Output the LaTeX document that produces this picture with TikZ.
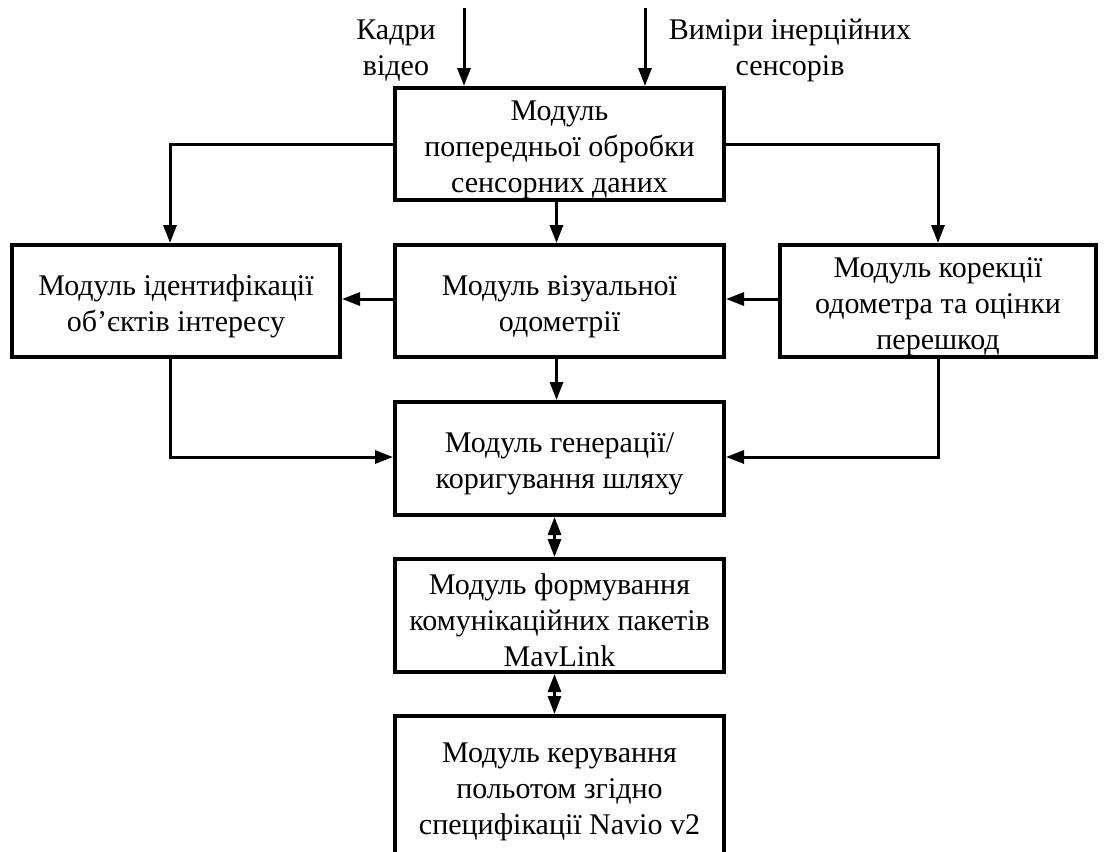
\documentclass[tikz,border=0pt]{standalone}
\usepackage{fontspec}
\setmainfont{Liberation Serif}
\usetikzlibrary{arrows.meta}
% extra head room on the first text line
\newcommand\firstlinestrut{\rule{0pt}{31pt}}
\begin{document}
\begin{tikzpicture}[x=1pt,y=-1pt,
  txt/.style={align=center, inner sep=0pt, font=\fontsize{30}{36}\selectfont},
  box/.style={txt, draw, line width=4pt, minimum height=112pt},
  arr/.style={line width=3pt, -{Triangle[length=18pt,width=13pt]}},
  dbl/.style={line width=3pt, {Triangle[length=18pt,width=13pt]}-{Triangle[length=18pt,width=13pt]}}]
\useasboundingbox (0,0) rectangle (1104,852);
\clip (0,0) rectangle (1104,852);

% input labels
\node[txt] (lv) at (396,45) {\firstlinestrut Кадри\\відео};
\node[txt] (ls) at (790,45) {\firstlinestrut Виміри інерційних\\сенсорів};

% modules
\node[box, minimum width=329pt] (pre) at (559.5,144) {\firstlinestrut Модуль\\попередньої обробки\\сенсорних даних};
\node[box, minimum width=328pt] (ident) at (176,301) {\firstlinestrut Модуль ідентифікації\\об’єктів інтересу};
\node[box, minimum width=329pt] (vis) at (559.5,301) {\firstlinestrut Модуль візуальної\\одометрії};
\node[box, minimum width=316pt] (corr) at (938,301) {\firstlinestrut Модуль корекції\\одометра та оцінки\\перешкод};
\node[box, minimum width=329pt, minimum height=113pt] (path) at (559.5,458.5) {\firstlinestrut Модуль генерації/\\коригування шляху};
\node[box, minimum width=329pt, minimum height=113pt] (mav) at (559.5,615.5) {\firstlinestrut Модуль формування\\комунікаційних пакетів\\MavLink};
\node[box, minimum width=329pt, minimum height=140pt] (fc) at (559.5,786) {\firstlinestrut Модуль керування\\польотом згідно\\специфікації Navio v2};

% inputs
\coordinate (inV) at (464,8);
\coordinate (inS) at (645,8);
\draw[arr] (inV) -- (inV |- pre.north);
\draw[arr] (inS) -- (inS |- pre.north);

% distribution from preprocessing
\draw[arr] (pre.west) -| ([xshift=-6pt]ident.north);
\draw[arr] (pre.east) -| (corr.north);
\draw[arr] ([xshift=-3pt]pre.south) -- ([xshift=-3pt]vis.north);

% horizontal links
\draw[arr] ([yshift=2pt]vis.west) -- ([yshift=2pt]ident.east);
\draw[arr] ([yshift=2pt]corr.west) -- ([yshift=2pt]vis.east);

% into path module
\draw[arr] ([xshift=-3pt]vis.south) -- ([xshift=-3pt]path.north);
\draw[arr] ([xshift=-6pt]ident.south) |- ([yshift=1.5pt]path.west);
\draw[arr] (corr.south) |- ([yshift=1.5pt]path.east);

% bidirectional links
\draw[dbl] ([xshift=-5pt]path.south) -- ([xshift=-5pt]mav.north);
\draw[dbl] ([xshift=-5pt]mav.south) -- ([xshift=-5pt]fc.north);
\end{tikzpicture}
\end{document}
